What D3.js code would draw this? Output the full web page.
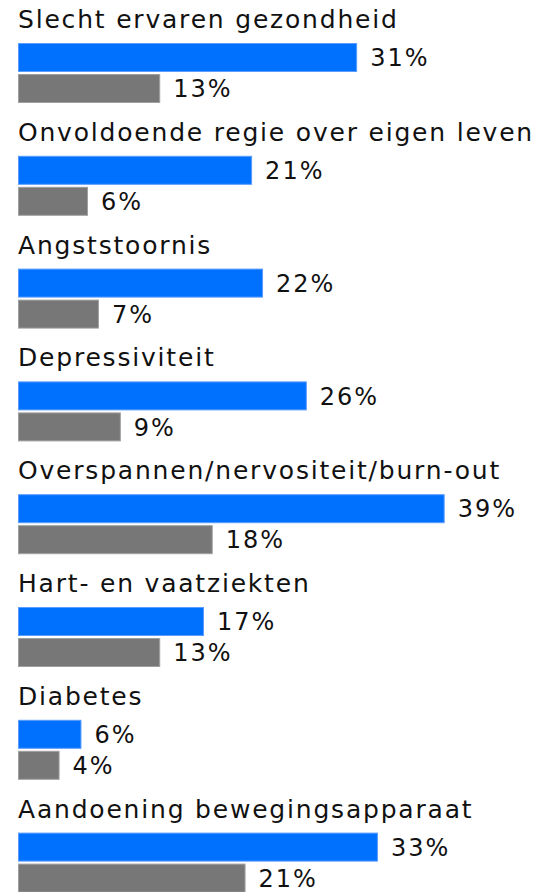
<!DOCTYPE html>
<html>
<head>
<meta charset="utf-8">
<script src="https://cdn.jsdelivr.net/npm/d3@7"></script>
<style>
  body { margin: 0; background: #fff; }
  svg text { font-family: 'DejaVu Sans', sans-serif; fill: #111; }
</style>
</head>
<body>
<svg class="chart" width="538" height="892"></svg>
<script>
const categories = [
  'Slecht ervaren gezondheid',
  'Onvoldoende regie over eigen leven',
  'Angststoornis',
  'Depressiviteit',
  'Overspannen/nervositeit/burn-out',
  'Hart- en vaatziekten',
  'Diabetes',
  'Aandoening bewegingsapparaat'
]
// bar lengths (labels are rounded)
const blueValues = [31, 21.4, 22.4, 26.4, 39, 17, 5.8, 32.9]
const grayValues = [13, 6.4, 7.4, 9.4, 17.8, 13, 3.8, 20.8]

const svg = d3.select('.chart'),
  margin = { left: 18, top: 43 },
  step = 112.8,
  barH = 29,
  barGap = 31

const x = d3.scaleLinear().domain([0, 40]).range([0, 437.6])
const y = d3.scaleBand()
  .domain(categories)
  .range([margin.top, margin.top + step * categories.length])

const data = categories.map((c, i) => ({ name: c, blue: blueValues[i], gray: grayValues[i] }))

const g = svg.append('g').attr('transform', 'translate(' + margin.left + ',0)')

const grp = g.selectAll('.grp')
  .data(data)
  .enter().append('g')
  .attr('class', 'grp')
  .attr('transform', d => 'translate(0,' + y(d.name) + ')')

grp.append('text')
  .attr('class', 'title')
  .attr('x', 0)
  .attr('y', -15)
  .style('font-size', '25px')
  .style('letter-spacing', '1.8px')
  .text(d => d.name)

const series = [
  { key: 'blue', fill: '#0070ff', stroke: '#5a9cff', off: 0 },
  { key: 'gray', fill: '#777777', stroke: '#a0a0a0', off: barGap }
]

series.forEach(s => {
  grp.append('rect')
    .attr('x', 0.5)
    .attr('y', s.off + 0.5)
    .attr('width', d => x(d[s.key]) - 1)
    .attr('height', barH - 1)
    .attr('fill', s.fill)
    .attr('stroke', s.stroke)
    .attr('stroke-width', 1)

  grp.append('text')
    .attr('x', d => x(d[s.key]) + 13)
    .attr('y', s.off + barH / 2)
    .attr('dy', '0.36em')
    .style('font-size', '24px')
    .style('letter-spacing', '2px')
    .text(d => Math.round(d[s.key]) + '%')
})
</script>
</body>
</html>
